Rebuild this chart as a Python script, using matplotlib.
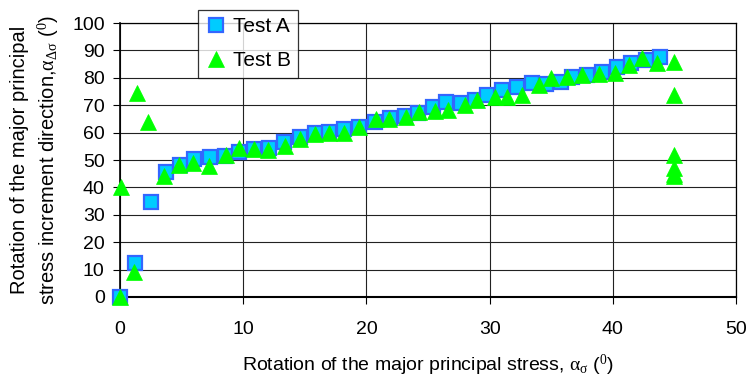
import matplotlib
matplotlib.use("Agg")
import matplotlib.pyplot as plt

plt.rcParams["font.family"] = ["Liberation Sans", "DejaVu Sans"]
plt.rcParams["mathtext.fontset"] = "custom"
plt.rcParams["mathtext.rm"] = "Liberation Serif"
plt.rcParams["mathtext.it"] = "Liberation Serif"

# Test A: rotation of principal stress vs increment direction
test_a_x = [0, 1.2, 2.5, 3.7, 4.9, 6.0, 7.3, 8.5, 9.7, 10.9, 12.1, 13.3, 14.6,
            15.8, 17.0, 18.2, 19.4, 20.7, 21.9, 23.1, 24.2, 25.4, 26.5, 27.7,
            28.8, 29.8, 31.0, 32.2, 33.4, 34.6, 35.8, 36.7, 37.9, 39.1, 40.3,
            41.5, 42.7, 43.8]
test_a_y = [0, 12.3, 34.5, 45.5, 48, 50.5, 51, 51.5, 53, 54, 54.3, 56.6, 58.4,
            59.8, 60.2, 61.4, 62.2, 64, 65.3, 66, 67.1, 69.3, 71, 70.8,
            71.9, 73.7, 75.5, 76.6, 78, 77.7, 78.5, 80.3, 81, 82.1, 84,
            85.4, 86.5, 87.6]

# Test B
test_b_x = [0, 0.05, 1.1, 1.35, 2.25, 3.6, 4.8, 5.9, 7.2, 8.6, 9.7, 10.9, 12.0,
            13.4, 14.6, 15.8, 17.0, 18.2, 19.4, 20.8, 21.8, 23.2, 24.3, 25.6,
            26.6, 28.0, 29.0, 30.4, 31.4, 32.6, 34.0, 35.0, 36.3, 37.5, 38.9,
            40.2, 41.3, 42.4, 43.6, 45, 45, 45, 45, 45, 45]
test_b_y = [0, 40, 9, 74.5, 64, 44, 48, 49, 47.8, 52, 54.2, 54, 53.7,
            55, 57.6, 59.4, 60, 59.8, 62, 65, 65, 65.7, 67.6, 68,
            68.3, 70, 72, 73, 73, 73.7, 77.4, 80, 80.3, 81, 81.4,
            81.8, 84.7, 87.2, 85.4, 85.8, 73.7, 52, 47, 45, 44]

fig = plt.figure(figsize=(7.48, 3.81), dpi=100)
ax = fig.add_axes([0.1604, 0.2205, 0.8236, 0.7191])

ax.plot(test_a_x, test_a_y, ls="none", marker="s", ms=10.5, mfc="#00ccff",
        mec="#3366ff", mew=1.6, label="Test A", zorder=3, clip_on=False)
ax.plot(test_b_x, test_b_y, ls="none", marker="^", ms=11.5, mfc="#00ff00",
        mec="#00ff00", mew=0.5, label="Test B", zorder=4, clip_on=False)

ax.set_xlim(0, 50)
ax.set_ylim(0, 100)
ax.set_xticks(range(0, 51, 10))
ax.set_yticks(range(0, 101, 10))
ax.grid(True, color="#222222", lw=0.8)
ax.set_axisbelow(True)
for s in ax.spines.values():
    s.set_color("black")
    s.set_linewidth(0.9)
ax.spines["bottom"].set_linewidth(1.5)
ax.spines["left"].set_linewidth(1.2)
ax.tick_params(axis="both", direction="out", length=5, width=0.8,
               labelsize=14, colors="black")
ax.tick_params(axis="x", pad=12)
ax.tick_params(axis="y", pad=6)

ax.set_xlabel(r"Rotation of the major principal stress, $\alpha_{\sigma}$ ($^{0}$)",
              fontsize=14, labelpad=11)
ax.set_ylabel("Rotation of the major principal\n"
              r"stress increment direction,$\alpha_{\Delta\sigma}$ ($^{0}$)",
              fontsize=14.5, labelpad=8, linespacing=1.35)

leg = fig.legend(loc="upper left", bbox_to_anchor=(0.265, 0.975), fontsize=15,
                 frameon=True, fancybox=False, edgecolor="black",
                 borderpad=0.35, handletextpad=0.3, labelspacing=0.75,
                 handlelength=1.0, borderaxespad=0)
leg.get_frame().set_linewidth(0.9)

fig.savefig("out.png", dpi=100)
